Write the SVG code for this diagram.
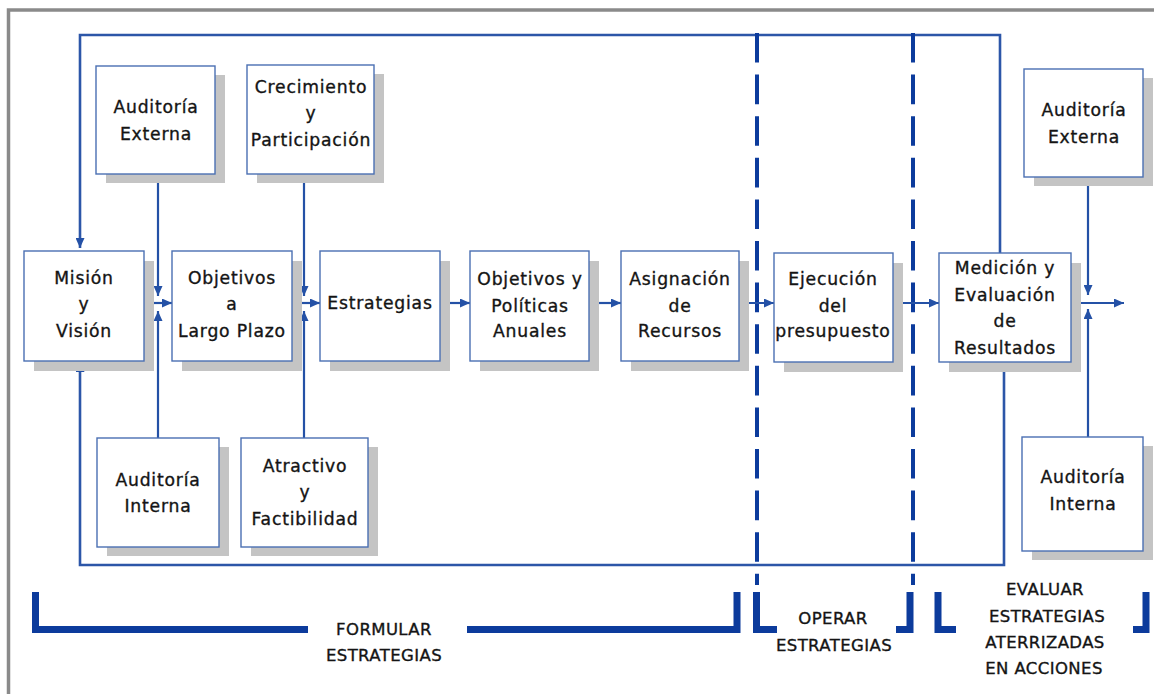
<svg xmlns="http://www.w3.org/2000/svg" width="1154" height="694" viewBox="0 0 1154 694">
  <style>
    .box { fill: #ffffff; stroke: #4a6fb3; stroke-width: 1.4; }
    .shadow { fill: #c4c4c4; }
    .lbl { font-family: "DejaVu Sans", "Liberation Sans", sans-serif; font-size: 17.2px; letter-spacing: 0.8px; fill: #141414; stroke: #141414; stroke-width: 0.35; text-anchor: middle; }
    .cap { font-family: "DejaVu Sans", "Liberation Sans", sans-serif; font-size: 16.5px; letter-spacing: 0.4px; fill: #141414; stroke: #141414; stroke-width: 0.35; text-anchor: middle; }
    .conn { fill: none; stroke: #2451a6; stroke-width: 2.2; }
    .loop { fill: none; stroke: #2c56a8; stroke-width: 2.6; }
    .dash { fill: none; stroke: #0c3b9c; stroke-width: 4; stroke-dasharray: 29.6 12; }
    .bracket { fill: none; stroke: #0c3b9c; stroke-width: 7; stroke-linejoin: miter; }
  </style>
  <defs>
    <marker id="arrow" viewBox="0 0 10 9" refX="10" refY="4.5" markerWidth="10" markerHeight="9" markerUnits="userSpaceOnUse" orient="auto">
      <path d="M0,0 L10,4.5 L0,9 z" fill="#2451a6"/>
    </marker>
  </defs>

  <rect width="1154" height="694" fill="#ffffff"/>
  <!-- page frame -->
  <path d="M8.5,694 V10 H1154" fill="none" stroke="#8a8a8a" stroke-width="3.5"/>

  <!-- connectors -->
  <g id="connectors">
    <!-- feedback loop -->
    <path class="loop" d="M1000,253 V35 H80 V248" marker-end="url(#arrow)"/>
    <path class="loop" d="M1004,362 V565 H80 V362" marker-end="url(#arrow)"/>
    <!-- phase separators -->
    <line class="dash" x1="757" y1="33" x2="757" y2="585"/>
    <line class="dash" x1="913" y1="33" x2="913" y2="585"/>
    <!-- main flow -->
    <line class="conn" x1="144" y1="303" x2="172" y2="303" marker-end="url(#arrow)"/>
    <line class="conn" x1="292" y1="303" x2="320" y2="303" marker-end="url(#arrow)"/>
    <line class="conn" x1="440" y1="303" x2="470" y2="303" marker-end="url(#arrow)"/>
    <line class="conn" x1="589" y1="303" x2="621" y2="303" marker-end="url(#arrow)"/>
    <line class="conn" x1="739" y1="303" x2="774" y2="303" marker-end="url(#arrow)"/>
    <line class="conn" x1="893" y1="303" x2="939" y2="303" marker-end="url(#arrow)"/>
    <line class="conn" x1="1071" y1="303" x2="1124" y2="303" marker-end="url(#arrow)"/>
    <!-- audit inputs -->
    <line class="conn" x1="158" y1="174" x2="158" y2="296" marker-end="url(#arrow)"/>
    <line class="conn" x1="158" y1="438" x2="158" y2="311" marker-end="url(#arrow)"/>
    <line class="conn" x1="304" y1="174" x2="304" y2="296" marker-end="url(#arrow)"/>
    <line class="conn" x1="304" y1="438" x2="304" y2="311" marker-end="url(#arrow)"/>
    <line class="conn" x1="1088" y1="177" x2="1088" y2="295" marker-end="url(#arrow)"/>
    <line class="conn" x1="1088" y1="437" x2="1088" y2="309" marker-end="url(#arrow)"/>
  </g>

  <!-- main chain -->
  <g id="mision">
    <rect class="shadow" x="34" y="261" width="120" height="110"/>
    <rect class="box" x="24" y="251" width="120" height="110"/>
    <text class="lbl" x="84" y="284">Misión</text>
    <text class="lbl" x="84" y="310">y</text>
    <text class="lbl" x="84" y="337">Visión</text>
  </g>
  <g id="objetivos-largo">
    <rect class="shadow" x="182" y="261" width="120" height="110"/>
    <rect class="box" x="172" y="251" width="120" height="110"/>
    <text class="lbl" x="232" y="284">Objetivos</text>
    <text class="lbl" x="232" y="310">a</text>
    <text class="lbl" x="232" y="337">Largo Plazo</text>
  </g>
  <g id="estrategias">
    <rect class="shadow" x="330" y="261" width="120" height="110"/>
    <rect class="box" x="320" y="251" width="120" height="110"/>
    <text class="lbl" x="380" y="309">Estrategias</text>
  </g>
  <g id="objetivos-anuales">
    <rect class="shadow" x="480" y="261" width="119" height="110"/>
    <rect class="box" x="470" y="251" width="119" height="110"/>
    <text class="lbl" x="530" y="285">Objetivos y</text>
    <text class="lbl" x="530" y="312">Políticas</text>
    <text class="lbl" x="530" y="337">Anuales</text>
  </g>
  <g id="asignacion">
    <rect class="shadow" x="631" y="261" width="118" height="110"/>
    <rect class="box" x="621" y="251" width="118" height="110"/>
    <text class="lbl" x="680" y="285">Asignación</text>
    <text class="lbl" x="680" y="312">de</text>
    <text class="lbl" x="680" y="337">Recursos</text>
  </g>
  <g id="ejecucion">
    <rect class="shadow" x="784" y="263" width="119" height="109"/>
    <rect class="box" x="774" y="253" width="119" height="109"/>
    <text class="lbl" x="833" y="285">Ejecución</text>
    <text class="lbl" x="833" y="312">del</text>
    <text class="lbl" x="833" y="337">presupuesto</text>
  </g>
  <g id="medicion">
    <rect class="shadow" x="949" y="263" width="132" height="109"/>
    <rect class="box" x="939" y="253" width="132" height="109"/>
    <text class="lbl" x="1005" y="274">Medición y</text>
    <text class="lbl" x="1005" y="301">Evaluación</text>
    <text class="lbl" x="1005" y="327">de</text>
    <text class="lbl" x="1005" y="354">Resultados</text>
  </g>

  <!-- inputs above -->
  <g id="auditoria-externa-1">
    <rect class="shadow" x="106" y="75" width="119" height="108"/>
    <rect class="box" x="96" y="66" width="119" height="108"/>
    <text class="lbl" x="156" y="113">Auditoría</text>
    <text class="lbl" x="156" y="140">Externa</text>
  </g>
  <g id="crecimiento">
    <rect class="shadow" x="257" y="74" width="127" height="109"/>
    <rect class="box" x="247" y="65" width="127" height="109"/>
    <text class="lbl" x="311" y="93">Crecimiento</text>
    <text class="lbl" x="311" y="119">y</text>
    <text class="lbl" x="311" y="146">Participación</text>
  </g>
  <g id="auditoria-externa-2">
    <rect class="shadow" x="1034" y="78" width="119" height="108"/>
    <rect class="box" x="1024" y="69" width="119" height="108"/>
    <text class="lbl" x="1084" y="116">Auditoría</text>
    <text class="lbl" x="1084" y="143">Externa</text>
  </g>

  <!-- inputs below -->
  <g id="auditoria-interna-1">
    <rect class="shadow" x="107" y="447" width="122" height="109"/>
    <rect class="box" x="97" y="438" width="122" height="109"/>
    <text class="lbl" x="158" y="486">Auditoría</text>
    <text class="lbl" x="158" y="512">Interna</text>
  </g>
  <g id="atractivo">
    <rect class="shadow" x="251" y="447" width="127" height="109"/>
    <rect class="box" x="241" y="438" width="127" height="109"/>
    <text class="lbl" x="305" y="472">Atractivo</text>
    <text class="lbl" x="305" y="498">y</text>
    <text class="lbl" x="305" y="525">Factibilidad</text>
  </g>
  <g id="auditoria-interna-2">
    <rect class="shadow" x="1032" y="446" width="121" height="114"/>
    <rect class="box" x="1022" y="437" width="121" height="114"/>
    <text class="lbl" x="1083" y="483">Auditoría</text>
    <text class="lbl" x="1083" y="510">Interna</text>
  </g>

  <!-- phase brackets -->
  <g id="fase-formular">
    <polyline class="bracket" points="35.5,592 35.5,629.5 308,629.5"/>
    <polyline class="bracket" points="467,629.5 737,629.5 737,592"/>
    <text class="cap" x="384" y="635">FORMULAR</text>
    <text class="cap" x="384" y="661">ESTRATEGIAS</text>
  </g>
  <g id="fase-operar">
    <polyline class="bracket" points="756.5,592 756.5,629.5 777,629.5"/>
    <polyline class="bracket" points="896,629.5 910,629.5 910,592"/>
    <text class="cap" x="833" y="624">OPERAR</text>
    <text class="cap" x="834" y="651">ESTRATEGIAS</text>
  </g>
  <g id="fase-evaluar">
    <polyline class="bracket" points="938,592 938,629.5 956,629.5"/>
    <polyline class="bracket" points="1133,629.5 1146,629.5 1146,592"/>
    <text class="cap" x="1045" y="595">EVALUAR</text>
    <text class="cap" x="1047" y="622">ESTRATEGIAS</text>
    <text class="cap" x="1045" y="648">ATERRIZADAS</text>
    <text class="cap" x="1044" y="674">EN ACCIONES</text>
  </g>
</svg>
